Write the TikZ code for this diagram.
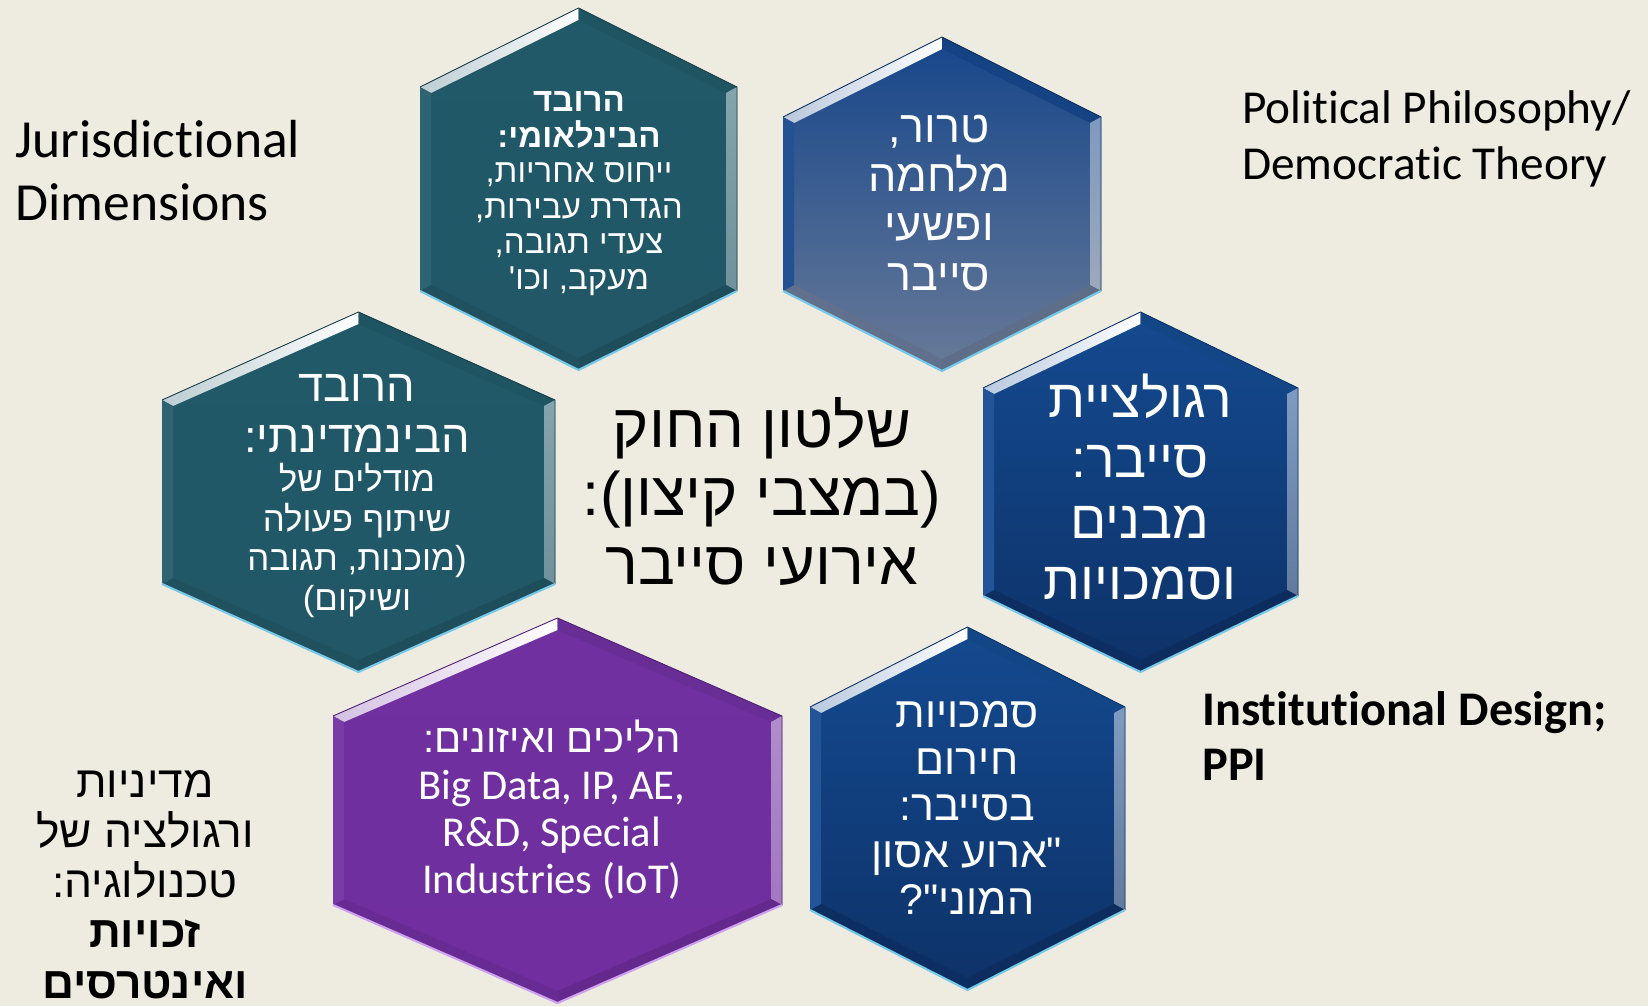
\documentclass[tikz,border=0pt]{standalone}
\usepackage{fontspec}
\setmainfont{Carlito}[Ligatures=NoCommon]
\newfontfamily\hebfont[Script=Hebrew]{Liberation Sans}
\TeXXeTstate=1
\usetikzlibrary{calc}
\definecolor{bgtan}{RGB}{238,236,225}
\definecolor{tealtop}{RGB}{33,89,104}
\definecolor{tealbot}{RGB}{33,87,102}
\definecolor{bluetop}{RGB}{20,74,144}
\definecolor{bluebot}{RGB}{13,50,104}
\definecolor{greytop}{RGB}{22,70,138}
\definecolor{greybot}{RGB}{104,122,152}
\definecolor{purptop}{RGB}{112,48,160}
\definecolor{purpbot}{RGB}{112,46,158}
\definecolor{cyanedge}{RGB}{120,200,232}
\definecolor{lilacedge}{RGB}{205,160,240}
\newcommand{\rtl}[1]{\beginR #1\endR}
\tikzset{
  hextext/.style={text=white,align=center,inner sep=0pt,anchor=base},
  sidetext/.style={text=black,align=left,inner sep=0pt,anchor=base west},
}
% one bevelled hexagon: cx, cy, half width, half height, slant, top, bottom, rim
\newcommand{\hexcell}[8]{%
  \coordinate (T) at (#1,{#2-#4});
  \coordinate (UR) at ({#1+#3},{#2-#4+#5});
  \coordinate (LR) at ({#1+#3},{#2+#4-#5});
  \coordinate (B) at (#1,{#2+#4});
  \coordinate (LL) at ({#1-#3},{#2+#4-#5});
  \coordinate (UL) at ({#1-#3},{#2-#4+#5});
  \coordinate (t) at (#1,{#2-#4+12});
  \coordinate (ur) at ({#1+#3-11},{#2-#4+#5+6});
  \coordinate (lr) at ({#1+#3-11},{#2+#4-#5-6});
  \coordinate (b) at (#1,{#2+#4-12});
  \coordinate (ll) at ({#1-#3+11},{#2+#4-#5-6});
  \coordinate (ul) at ({#1-#3+11},{#2-#4+#5+6});
  \shade[top color=#6,bottom color=#7] (T) -- (UR) -- (LR) -- (B) -- (LL) -- (UL) -- cycle;
  % bevel faces
  \shade[left color=#6!30!white,middle color=white,right color=white] (UL) -- (T) -- (t) -- (ul) -- cycle;
  \fill[#6!94!black] (T) -- (UR) -- (ur) -- (t) -- cycle;
  \shade[top color=#6!55!white,bottom color=#7!65!white] (UR) -- (LR) -- (lr) -- (ur) -- cycle;
  \fill[#7!90!black] (LR) -- (B) -- (b) -- (lr) -- cycle;
  \fill[#7!93!black] (B) -- (LL) -- (ll) -- (b) -- cycle;
  \fill[#6!94!white] (LL) -- (UL) -- (ul) -- (ll) -- cycle;
  \draw[#6!70!black,line width=0.5pt] (UL) -- (T) -- (UR) -- (LR);
  \draw[#8,line width=1.2pt] (LL) -- (B) -- (LR);
}
\begin{document}
\begin{tikzpicture}[x=0.2mm,y=-0.2mm]
  \fill[bgtan] (0,0) rectangle (1648,1006);
  \useasboundingbox (0,0) rectangle (1648,1006);

  % hexagons
  \hexcell{578.5}{189}{158.5}{181}{79}{tealtop}{tealbot}{cyanedge}
  \hexcell{942}{204}{159}{167}{80}{greytop}{greybot}{cyanedge}
  \hexcell{358.5}{492}{196.5}{180}{88}{tealtop}{tealbot}{cyanedge}
  \hexcell{1140.5}{492}{157.5}{180}{76}{bluetop}{bluebot}{cyanedge}
  \hexcell{557.5}{810.5}{224.5}{192.5}{98}{purptop}{purpbot}{lilacedge}
  \hexcell{967.5}{808.5}{157.5}{181.5}{80}{bluetop}{bluebot}{cyanedge}

  % texts in the hexagons (anchored at the last baseline)
  \node[hextext,font=\hebfont\fontsize{18.8}{20.2}\selectfont] (intl) at (579,289)
    {\rtl{\bfseries הרובד}\\\rtl{\bfseries הבינלאומי:}\\\rtl{ייחוס אחריות,}\\\rtl{הגדרת עבירות,}\\\rtl{צעדי תגובה,}\\\rtl{מעקב, וכו'}};
  \node[hextext,font=\hebfont\fontsize{25.5}{28}\selectfont] (terror) at (939,290)
    {\rtl{טרור,}\\\rtl{מלחמה}\\\rtl{ופשעי}\\\rtl{סייבר}};
  \node[hextext,font=\hebfont\fontsize{25.7}{28.5}\selectfont] (interstate) at (357,452)
    {\rtl{הרובד}\\\rtl{הבינמדינתי:}};
  \node[hextext,font=\hebfont\fontsize{19.8}{22.4}\selectfont] (coop) at (357,610)
    {\rtl{מודלים של}\\\rtl{שיתוף פעולה}\\\rtl{(מוכנות, תגובה}\\\rtl{ושיקום)}};
  \node[hextext,font=\hebfont\fontsize{30.5}{34.5}\selectfont] (regul) at (1140,599)
    {\rtl{רגולציית}\\\rtl{סייבר:}\\\rtl{מבנים}\\\rtl{וסמכויות}};
  \node[hextext,font=\fontsize{24.2}{26.7}\selectfont] (checks) at (552,893)
    {{\hebfont\fontsize{22.8}{26.7}\selectfont\rtl{הליכים ואיזונים:}}\\Big Data, IP, AE,\\R\&D, Special\\Industries (IoT)};
  \node[hextext,font=\hebfont\fontsize{24.4}{26.5}\selectfont] (emerg) at (967,914)
    {\rtl{סמכויות}\\\rtl{חירום}\\\rtl{בסייבר:}\\\rtl{"ארוע אסון}\\\rtl{המוני"?}};

  % centre
  \node[text=black,align=center,inner sep=0pt,anchor=base,font=\hebfont\fontsize{35}{38.7}\selectfont] (core) at (762,584)
    {\rtl{שלטון החוק}\\\rtl{(במצבי קיצון):}\\\rtl{אירועי סייבר}};

  % side labels
  \node[sidetext,font=\fontsize{30.5}{35.5}\selectfont] (juris) at (15,220) {Jurisdictional\\Dimensions};
  \node[sidetext,font=\fontsize{26.9}{32.4}\selectfont] (polit) at (1242,180) {Political Philosophy/\\Democratic Theory};
  \node[sidetext,font=\bfseries\fontsize{27.5}{31.3}\selectfont] (instit) at (1202,780) {Institutional Design;\\PPI};
  \node[text=black,align=center,inner sep=0pt,anchor=base,font=\hebfont\fontsize{25.2}{28.5}\selectfont] (techpol) at (145,998)
    {\rtl{מדיניות}\\\rtl{ורגולציה של}\\\rtl{טכנולוגיה:}\\\rtl{\bfseries זכויות}\\\rtl{\bfseries ואינטרסים}};
\end{tikzpicture}
\end{document}
